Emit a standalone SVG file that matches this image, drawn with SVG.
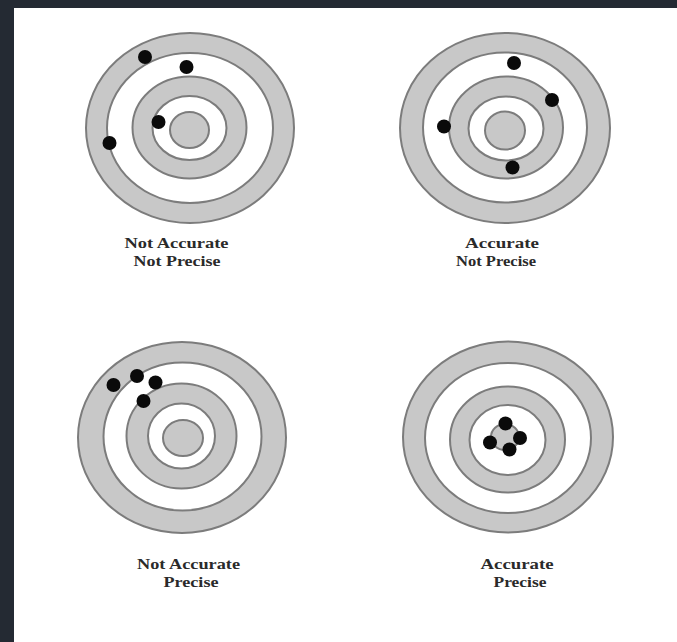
<svg xmlns="http://www.w3.org/2000/svg" width="677" height="642" viewBox="0 0 677 642">
<style>
.g{fill:#c8c8c8;stroke:#7c7c7c;stroke-width:2}
.w{fill:#ffffff;stroke:#7c7c7c;stroke-width:2}
.d{fill:#0a0a0a}
.t{font-family:"Liberation Serif","Times New Roman",serif;font-weight:bold;font-size:15px;fill:#2a2a2a;text-anchor:middle}
</style>
<rect x="0" y="0" width="677" height="642" fill="#242a33"/>
<rect x="14" y="8" width="663" height="634" fill="#ffffff"/>

<g id="target-not-accurate-not-precise">
<ellipse class="g" cx="190" cy="128" rx="104" ry="95"/>
<ellipse class="w" cx="190" cy="128" rx="83" ry="75"/>
<ellipse class="g" cx="189.5" cy="127.5" rx="57" ry="51"/>
<ellipse class="w" cx="189.5" cy="128" rx="37" ry="32"/>
<ellipse class="g" cx="189.5" cy="130" rx="19.5" ry="18"/>
<circle class="d" cx="145" cy="57" r="7"/>
<circle class="d" cx="186.5" cy="67" r="7"/>
<circle class="d" cx="158.5" cy="122" r="7"/>
<circle class="d" cx="109.5" cy="143" r="7"/>
<text class="t" x="176.5" y="248" textLength="104" lengthAdjust="spacingAndGlyphs">Not Accurate</text>
<text class="t" x="177" y="266" textLength="87" lengthAdjust="spacingAndGlyphs">Not Precise</text>
</g>

<g id="target-accurate-not-precise">
<ellipse class="g" cx="505" cy="128" rx="105" ry="95"/>
<ellipse class="w" cx="505" cy="127.5" rx="82" ry="75"/>
<ellipse class="g" cx="506" cy="127.5" rx="57" ry="51"/>
<ellipse class="w" cx="506" cy="128.5" rx="37.5" ry="32"/>
<ellipse class="g" cx="505" cy="130.5" rx="20" ry="19"/>
<circle class="d" cx="514" cy="63" r="7"/>
<circle class="d" cx="552" cy="100" r="7"/>
<circle class="d" cx="444" cy="126.5" r="7"/>
<circle class="d" cx="512.5" cy="167.5" r="7"/>
<text class="t" x="502" y="248" textLength="74" lengthAdjust="spacingAndGlyphs">Accurate</text>
<text class="t" x="496" y="266" textLength="80" lengthAdjust="spacingAndGlyphs">Not Precise</text>
</g>

<g id="target-not-accurate-precise">
<ellipse class="g" cx="182" cy="437.5" rx="104" ry="95.5"/>
<ellipse class="w" cx="182.5" cy="436.5" rx="79" ry="74"/>
<ellipse class="g" cx="181.5" cy="436" rx="55" ry="52.5"/>
<ellipse class="w" cx="181.5" cy="436" rx="33.5" ry="32.5"/>
<ellipse class="g" cx="183" cy="438" rx="20" ry="18"/>
<circle class="d" cx="113.5" cy="385" r="7"/>
<circle class="d" cx="137" cy="376" r="7"/>
<circle class="d" cx="155.5" cy="382.5" r="7"/>
<circle class="d" cx="143.5" cy="401" r="7"/>
<text class="t" x="188.5" y="569" textLength="103" lengthAdjust="spacingAndGlyphs">Not Accurate</text>
<text class="t" x="191" y="587" textLength="55" lengthAdjust="spacingAndGlyphs">Precise</text>
</g>

<g id="target-accurate-precise">
<ellipse class="g" cx="508" cy="437" rx="105" ry="95.5"/>
<ellipse class="w" cx="508" cy="438" rx="83" ry="75"/>
<ellipse class="g" cx="507.5" cy="439.5" rx="57.5" ry="53"/>
<ellipse class="w" cx="507.5" cy="440" rx="38" ry="35"/>
<ellipse class="g" cx="505" cy="437" rx="14" ry="13"/>
<circle class="d" cx="505.5" cy="423.5" r="7"/>
<circle class="d" cx="490" cy="442.5" r="7"/>
<circle class="d" cx="520" cy="438" r="7"/>
<circle class="d" cx="509.5" cy="449.5" r="7"/>
<text class="t" x="517" y="569" textLength="73" lengthAdjust="spacingAndGlyphs">Accurate</text>
<text class="t" x="520" y="587" textLength="53" lengthAdjust="spacingAndGlyphs">Precise</text>
</g>
</svg>
